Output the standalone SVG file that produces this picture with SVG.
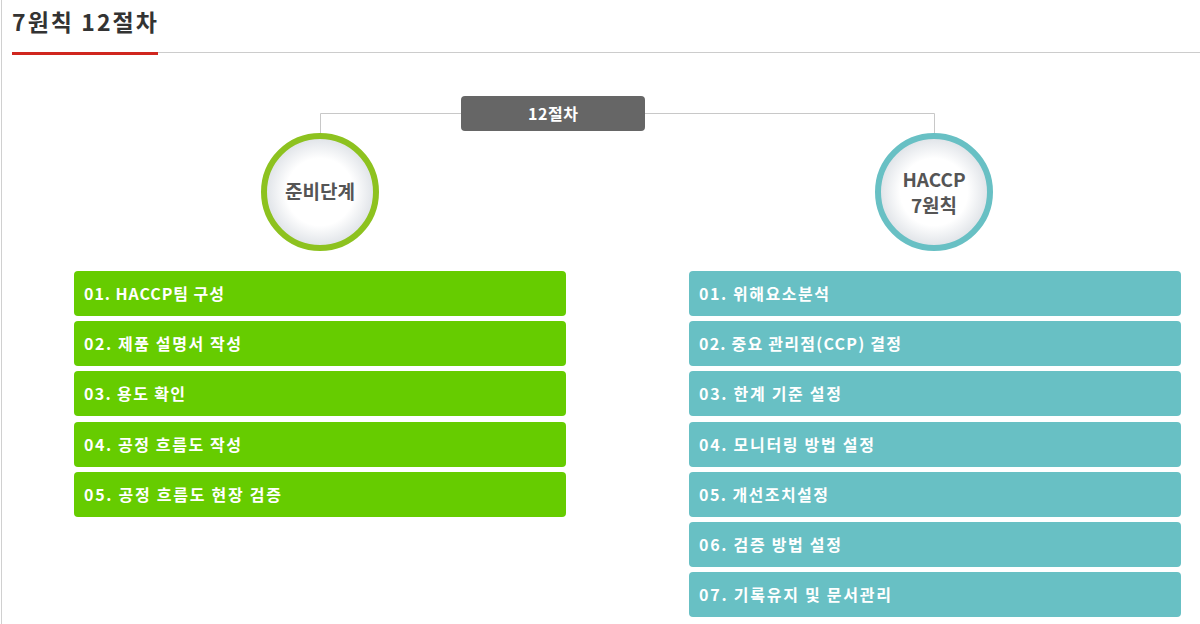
<svg xmlns="http://www.w3.org/2000/svg" width="1200" height="624" viewBox="0 0 1200 624">
<defs>
<radialGradient id="cg" cx="50%" cy="50%" r="50%">
<stop offset="0.6" stop-color="#ffffff"/>
<stop offset="1" stop-color="#dde1e6"/>
</radialGradient>
<style>
text{font-family:"Noto Sans CJK KR","Noto Sans",sans-serif;font-weight:bold}
.title{font-size:23px;fill:#333}
.item{font-size:16px;fill:#ffffff}
.g{fill:#66cc00}
.t{fill:#68c0c4}
.circ{font-size:19px;fill:#555;text-anchor:middle}
.conn{fill:none;stroke:#c8c8c8;stroke-width:1}
</style>
</defs>
<rect x="0" y="0" width="1200" height="624" fill="#ffffff"/>
<line x1="1.5" y1="0" x2="1.5" y2="624" stroke="#d0d0d0" stroke-width="1"/>
<text class="title" x="12" y="31" textLength="145" lengthAdjust="spacing">7원칙 12절차</text>
<line x1="12" y1="52.5" x2="1200" y2="52.5" stroke="#cccccc" stroke-width="1"/>
<rect x="12" y="52" width="146" height="3" fill="#d0261e"/>
<g id="connectors">
<path class="conn" d="M320.5,135 V113.5 H461 M645,113.5 H934.5 V135"/>
</g>
<g id="root">
<rect x="461" y="96" width="184" height="35" rx="4" fill="#666666"/>
<text x="553" y="119.5" font-size="16" fill="#ffffff" text-anchor="middle" textLength="50" lengthAdjust="spacing">12절차</text>
</g>
<g id="prep">
<circle cx="320" cy="192" r="56" fill="url(#cg)" stroke="#8dc21f" stroke-width="6"/>
<text class="circ" x="320" y="199">준비단계</text>
</g>
<g id="haccp">
<circle cx="934" cy="192" r="56" fill="url(#cg)" stroke="#68c0c4" stroke-width="6"/>
<text class="circ" x="934" y="187">HACCP</text>
<text class="circ" x="934" y="213">7원칙</text>
</g>
<g id="p1"><rect class="g" x="74" y="271" width="492" height="45" rx="4"/><text class="item" x="84" y="300" textLength="140" lengthAdjust="spacing">01. HACCP팀 구성</text></g>
<g id="p2"><rect class="g" x="74" y="321" width="492" height="45" rx="4"/><text class="item" x="84" y="350" textLength="157" lengthAdjust="spacing">02. 제품 설명서 작성</text></g>
<g id="p3"><rect class="g" x="74" y="371" width="492" height="45" rx="4"/><text class="item" x="84" y="400" textLength="101" lengthAdjust="spacing">03. 용도 확인</text></g>
<g id="p4"><rect class="g" x="74" y="422" width="492" height="45" rx="4"/><text class="item" x="84" y="451" textLength="157" lengthAdjust="spacing">04. 공정 흐름도 작성</text></g>
<g id="p5"><rect class="g" x="74" y="472" width="492" height="45" rx="4"/><text class="item" x="84" y="501" textLength="197" lengthAdjust="spacing">05. 공정 흐름도 현장 검증</text></g>
<g id="h1"><rect class="t" x="689" y="271" width="492" height="45" rx="4"/><text class="item" x="699" y="300" textLength="130" lengthAdjust="spacing">01. 위해요소분석</text></g>
<g id="h2"><rect class="t" x="689" y="321" width="492" height="45" rx="4"/><text class="item" x="699" y="350" textLength="202" lengthAdjust="spacing">02. 중요 관리점(CCP) 결정</text></g>
<g id="h3"><rect class="t" x="689" y="371" width="492" height="45" rx="4"/><text class="item" x="699" y="400" textLength="142" lengthAdjust="spacing">03. 한계 기준 설정</text></g>
<g id="h4"><rect class="t" x="689" y="422" width="492" height="45" rx="4"/><text class="item" x="699" y="451" textLength="175" lengthAdjust="spacing">04. 모니터링 방법 설정</text></g>
<g id="h5"><rect class="t" x="689" y="472" width="492" height="45" rx="4"/><text class="item" x="699" y="501" textLength="129" lengthAdjust="spacing">05. 개선조치설정</text></g>
<g id="h6"><rect class="t" x="689" y="522" width="492" height="45" rx="4"/><text class="item" x="699" y="551" textLength="142" lengthAdjust="spacing">06. 검증 방법 설정</text></g>
<g id="h7"><rect class="t" x="689" y="572" width="492" height="45" rx="4"/><text class="item" x="699" y="601" textLength="192" lengthAdjust="spacing">07. 기록유지 및 문서관리</text></g>
</svg>
